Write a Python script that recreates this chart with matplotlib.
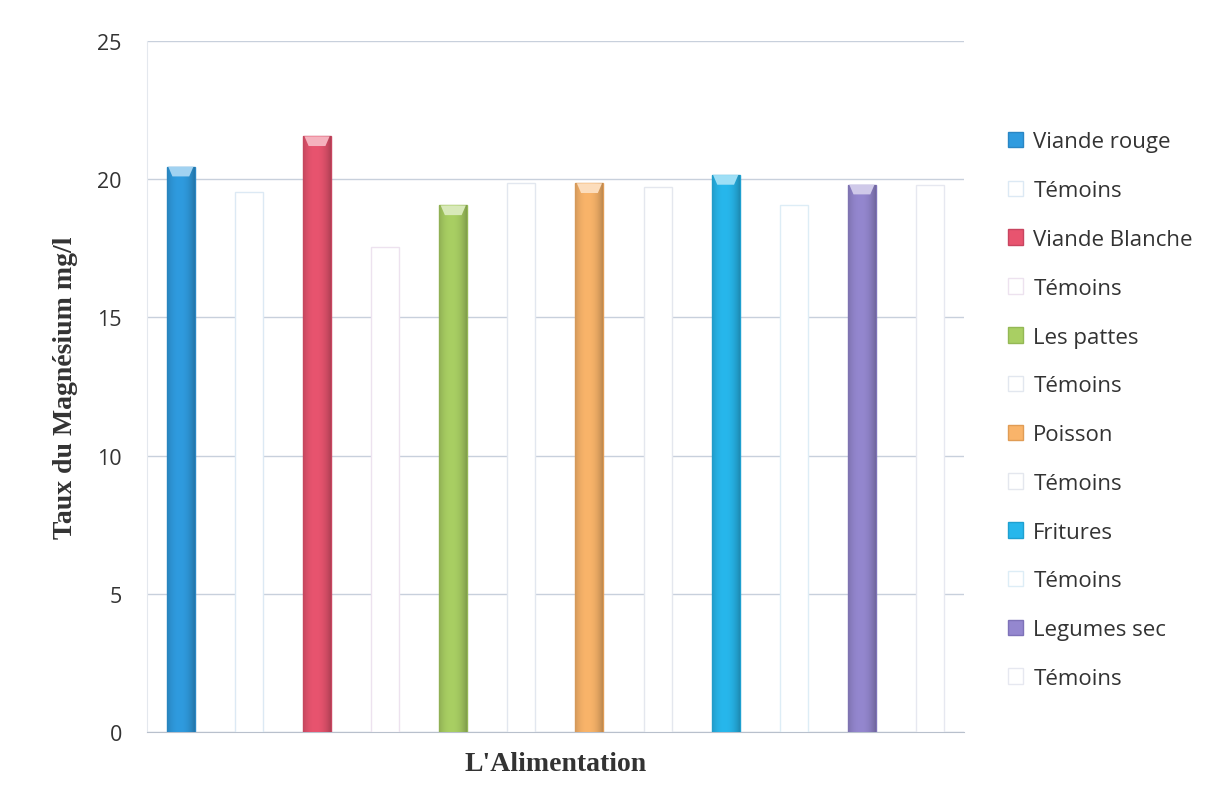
import numpy as np
import matplotlib
matplotlib.use("Agg")
import matplotlib.pyplot as plt
from matplotlib.colors import to_rgb

# Magnesium levels (mg/l) per food group, each followed by its control group
series = ["Viande rouge", "Témoins", "Viande Blanche", "Témoins",
          "Les pattes", "Témoins", "Poisson", "Témoins",
          "Fritures", "Témoins", "Legumes sec", "Témoins"]
values = [20.45, 19.55, 21.55, 17.55, 19.05, 19.85,
          19.85, 19.7, 20.15, 19.05, 19.8, 19.8]
fill_colors = ["#2F9BDF", "#FFFFFF", "#E8546F", "#FFFFFF",
               "#A9CF63", "#FFFFFF", "#F9B46A", "#FFFFFF",
               "#27B7EC", "#FFFFFF", "#9487CF", "#FFFFFF"]
edge_colors = ["#2A86C4", "#DCE9F4", "#C84560", "#EDE2EF",
               "#94B855", "#E2E7EF", "#E09C55", "#E4E7EE",
               "#1FA0D0", "#DDEDF6", "#7E72B8", "#E6E8F0"]
yticks = [0, 5, 10, 15, 20, 25]

plt.rcParams["font.family"] = ["Open Sans", "DejaVu Sans"]

fig = plt.figure(figsize=(12.18, 8.03), dpi=100)
ax = fig.add_axes([0.1205, 0.0872, 0.671, 0.8605])

x = np.arange(len(values))
width = 0.41
bars = ax.bar(x, values, width=width, color=fill_colors,
              edgecolor=edge_colors, linewidth=1.0, zorder=3)

# Soft cylinder-like shading across each coloured bar
shade = np.linspace(0, 1, 64)
profile = 1 - 0.9 * np.abs(shade - 0.45) ** 2.2
for b, c in zip(bars, fill_colors):
    if c.upper() == "#FFFFFF":
        continue
    rgb = np.array(to_rgb(c))
    img = np.clip(rgb[None, None, :] * profile[None, :, None], 0, 1)
    x0, y0 = b.get_x(), b.get_y()
    im = ax.imshow(img, extent=(x0, x0 + b.get_width(), y0, y0 + b.get_height()),
                   aspect="auto", zorder=3.5, interpolation="bilinear")
    im.set_clip_path(b)
    # lighter cap at the top of the bar
    top = b.get_height()
    w = b.get_width()
    light = tuple(np.clip(rgb + (1 - rgb) * 0.55, 0, 1))
    ax.fill([x0 + w * 0.05, x0 + w * 0.95, x0 + w * 0.8, x0 + w * 0.2],
            [top, top, top - 0.35, top - 0.35],
            color=light, zorder=4, lw=0)

ax.set_xlim(-0.5, len(values) - 0.5)
ax.set_ylim(0, 25)
ax.set_yticks(yticks)
ax.set_yticklabels([str(t) for t in yticks], fontsize=15.5, color="#333333")
ax.set_xticks([])
ax.tick_params(axis="y", length=0, pad=18)

ax.yaxis.grid(True, color="#C8D0DC", linewidth=1.0, zorder=0)
ax.set_axisbelow(True)
for s in ["top", "right"]:
    ax.spines[s].set_visible(False)
ax.spines["left"].set_color("#E4E8EE")
ax.spines["bottom"].set_color("#B8C0CC")

ax.set_ylabel("Taux du Magnésium mg/l", fontsize=20, fontweight="bold",
              family="Liberation Serif", color="#333333", labelpad=14)
ax.set_xlabel("L'Alimentation", fontsize=20, fontweight="bold",
              family="Liberation Serif", color="#333333", labelpad=14)

leg = ax.legend(bars, series, loc="upper left", bbox_to_anchor=(1.029, 0.898),
                frameon=False, fontsize=16, handlelength=0.7, handleheight=0.7,
                handletextpad=0.45, labelspacing=1.25, labelcolor="#333333")

fig.savefig("out.png", dpi=100, facecolor="white")
